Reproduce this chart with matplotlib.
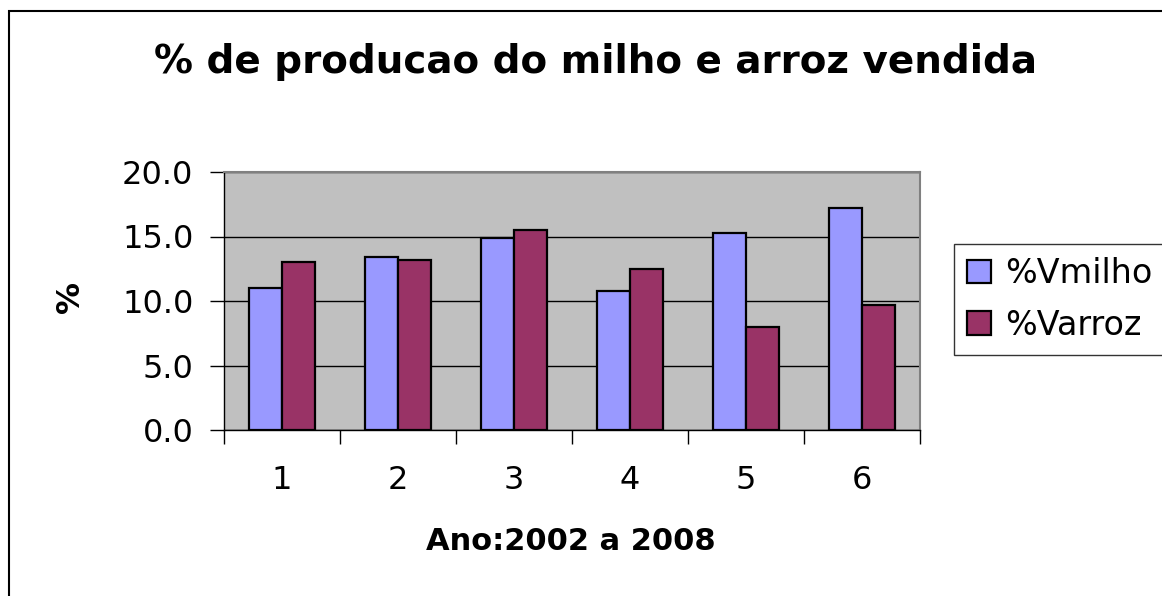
import matplotlib.pyplot as plt
import numpy as np

# dados
anos = ['1', '2', '3', '4', '5', '6']
vmilho = [11.0, 13.4, 14.9, 10.8, 15.3, 17.2]
varroz = [13.0, 13.2, 15.5, 12.5, 8.0, 9.7]

# DejaVu Sans e mais larga, parecida com o texto esticado do original
plt.rcParams['font.family'] = ['DejaVu Sans']

fig = plt.figure(figsize=(11.62, 5.96), dpi=100)
ax = fig.add_axes([224 / 1162, 1 - 430 / 596, 696 / 1162, 258 / 596])

# moldura do grafico (so esquerda e topo visiveis)
fig.add_artist(plt.Rectangle((9 / 1162, -0.1), 1.2, 1 - 11 / 596 + 0.1,
                             transform=fig.transFigure, fill=False,
                             edgecolor='black', linewidth=1.5))

x = np.arange(len(anos))
largura = 0.285
ax.bar(x - largura / 2, vmilho, largura, color='#9999FF', edgecolor='black',
       linewidth=1.6, label='%Vmilho', zorder=3)
ax.bar(x + largura / 2, varroz, largura, color='#993366', edgecolor='black',
       linewidth=1.6, label='%Varroz', zorder=3)

ax.set_facecolor('#C0C0C0')
ax.set_xlim(-0.5, len(anos) - 0.5)
ax.set_ylim(0, 20)
ax.set_yticks([0, 5, 10, 15, 20])
ax.set_yticklabels(['0.0', '5.0', '10.0', '15.0', '20.0'])
ax.yaxis.grid(True, color='black', linewidth=1, zorder=1)
ax.set_axisbelow(True)

# marcas do eixo x entre as categorias
ax.set_xticks(np.arange(-0.5, len(anos), 1.0))
ax.set_xticklabels([])
ax.set_xticks(x, minor=True)
ax.set_xticklabels(anos, minor=True)
ax.tick_params(axis='x', which='major', length=10, width=1, color='black', direction='out')
ax.tick_params(axis='x', which='minor', length=0, pad=25, labelsize=23)
ax.tick_params(axis='y', length=10, width=1, direction='out', labelsize=23, pad=12)

for lado in ['top', 'right']:
    ax.spines[lado].set_color('#808080')
    ax.spines[lado].set_linewidth(1.5)
for lado in ['left', 'bottom']:
    ax.spines[lado].set_color('black')
    ax.spines[lado].set_linewidth(1)

fig.text(596 / 1162, 1 - 62 / 596, '% de producao do milho e arroz vendida',
         ha='center', va='center', fontsize=28, fontweight='bold')
fig.text(571 / 1162, 1 - 541 / 596, 'Ano:2002 a 2008', ha='center', va='center',
         fontsize=22, fontweight='bold')
fig.text(71 / 1162, 1 - 297 / 596, '%', ha='center', va='center', rotation=90,
         fontsize=23, fontweight='bold')

leg = fig.legend(loc='upper left', bbox_to_anchor=(954 / 1162, 1 - 244 / 596),
                 fontsize=24, frameon=True, fancybox=False, borderaxespad=0,
                 handlelength=0.7, handleheight=0.7, handletextpad=0.42,
                 borderpad=0.4, labelspacing=0.55)
leg.get_frame().set_edgecolor('black')
leg.get_frame().set_linewidth(1)

plt.savefig('out.png', dpi=100)
